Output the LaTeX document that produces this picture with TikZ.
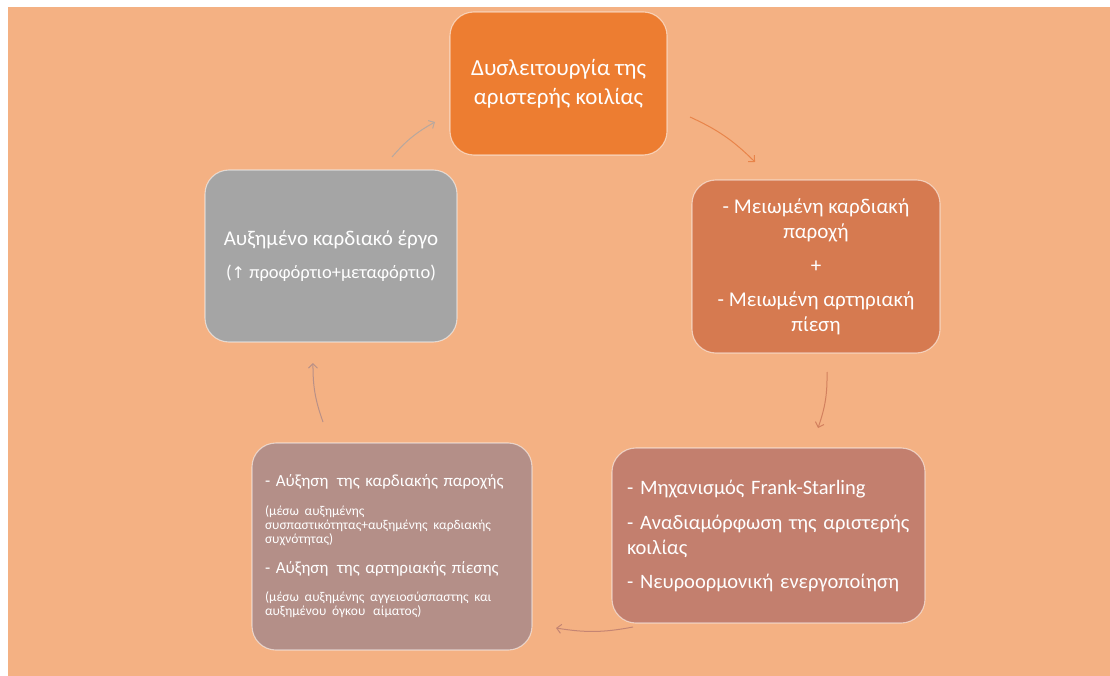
\documentclass[tikz,border=0pt]{standalone}
\usepackage{fontspec}
\setmainfont{Carlito}
\newfontfamily\symfont{DejaVu Sans}
\usetikzlibrary{arrows.meta}
\definecolor{bgc}{HTML}{F4B183}
\definecolor{topc}{HTML}{ED7D31}
\definecolor{rightc}{HTML}{D67A50}
\definecolor{brc}{HTML}{C37F6E}
\definecolor{blc}{HTML}{B48F88}
\definecolor{grayc}{HTML}{A5A5A5}
\definecolor{a1c}{HTML}{B8A89E}
\definecolor{a2c}{HTML}{E8844A}
\definecolor{a3c}{HTML}{D2805E}
\definecolor{a4c}{HTML}{C58573}
\definecolor{a5c}{HTML}{B99087}
\tikzset{
  box/.style={rectangle, rounded corners=24pt, draw=white, draw opacity=0.55,
    line width=1.1pt, text=white, inner sep=0pt},
  flow/.style={line width=1pt, -{Straight Barb[length=4.5pt,width=9pt]}, bend left=10}
}
\begin{document}
\begin{tikzpicture}[x=1pt,y=-1pt]
\useasboundingbox (0,0) rectangle (1110,676);
\fill[white] (0,0) rectangle (1110,676);
\fill[bgc] (8,7) rectangle (1110,676);

\node[box, fill=topc, minimum width=217pt, minimum height=143pt, align=center,
  font=\fontsize{23}{29}\selectfont] (top) at (558.5,83.5)
  {Δυσλειτουργία της\\αριστερής κοιλίας};

\node[box, fill=rightc, minimum width=248pt, minimum height=173pt, align=center,
  font=\fontsize{21}{25}\selectfont] (right) at (816,266.5)
  {- Μειωμένη καρδιακή\\παροχή\\[9pt]+\\[9pt]- Μειωμένη αρτηριακή\\πίεση};

\node[box, fill=brc, minimum width=313pt, minimum height=175pt, inner xsep=15pt,
  text width=283pt, font=\fontsize{20.5}{25}\selectfont] (br) at (768.5,535.5)
  {\raggedright - Μηχανισμός Frank-Starling\par\vspace{10pt}- Αναδιαμόρφωση της αριστερής\\κοιλίας\par\vspace{9pt}- Νευροορμονική ενεργοποίηση\par};

\node[box, fill=blc, minimum width=280pt, minimum height=207pt, inner xsep=13pt,
  text width=254pt, font=\fontsize{17}{20}\selectfont] (bl) at (392,546.5)
  {\raggedright - Αύξηση\, της καρδιακής παροχής\par
   \vspace{15pt}{\fontsize{13.5}{14}\selectfont (μέσω αυξημένης\\συσπαστικότητας+αυξημένης καρδιακής\\συχνότητας)\par}
   \vspace{10pt}- Αύξηση\, της αρτηριακής πίεσης\par
   \vspace{14pt}{\fontsize{13.5}{14}\selectfont (μέσω αυξημένης αγγειοσύσπαστης και\\αυξημένου όγκου\, αίματος)\par}};

\node[box, fill=grayc, minimum width=252pt, minimum height=172pt, align=center,
  font=\fontsize{21}{33}\selectfont] (gray) at (331,256)
  {Αυξημένο καρδιακό έργο\\{\fontsize{18.5}{33}\selectfont({\symfont\fontsize{16}{33}\selectfont ↑} προφόρτιο+μεταφόρτιο)}};

\coordinate (a1s) at (392,157); \coordinate (a1e) at (435,122);
\coordinate (a2s) at (690,117); \coordinate (a2e) at (755,162);
\coordinate (a3s) at (827,372); \coordinate (a3e) at (818,428);
\coordinate (a4s) at (633,627); \coordinate (a4e) at (556,628);
\coordinate (a5s) at (323,422); \coordinate (a5e) at (313,363);

\draw[flow, a1c] (a1s) to (a1e);
\draw[flow, a2c] (a2s) to (a2e);
\draw[flow, a3c] (a3s) to (a3e);
\draw[flow, a4c] (a4s) to (a4e);
\draw[flow, a5c] (a5s) to (a5e);
\end{tikzpicture}
\end{document}
